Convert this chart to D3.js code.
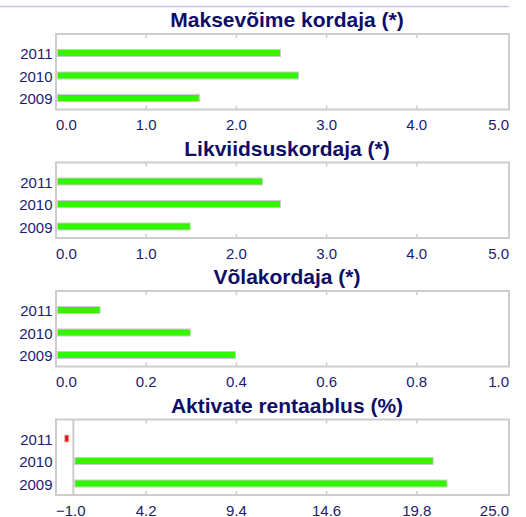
<!DOCTYPE html>
<html lang="et">
<head>
  <meta charset="UTF-8">
  <title>Suhtarvud</title>
</head>
<body style="margin:0; background-color:#ffffff">
  <style>
    svg{display:block; font-family: Arial, "Liberation Sans", sans-serif;}
    .title{font-weight:bold; font-size:21px; fill:#0e0e66;}
    .tick-label{font-size:15px; fill:#1c1c6e;}
  </style>
  <div id="chart-wrapper"></div>
  <script src="https://d3js.org/d3.v7.min.js"></script>
  <script>
  // DATA
  const years = ["2011", "2010", "2009"];
  const titles = ["Maksevõime kordaja (*)", "Likviidsuskordaja (*)", "Võlakordaja (*)", "Aktivate rentaablus (%)"];
  const maksevoime = [2.5, 2.7, 1.6];
  const likviidsus = [2.3, 2.5, 1.5];
  const volakordaja = [0.1, 0.3, 0.4];
  const rentaablus = [-0.5, 20.8, 21.6];
  const ticksKordaja = [0, 1, 2, 3, 4, 5];
  const ticksVola = [0, 0.2, 0.4, 0.6, 0.8, 1.0];
  const ticksRent = [-1.0, 4.2, 9.4, 14.6, 19.8, 25.0];

  // CONSTANTS
  const width = 526;
  const height = 517;
  const left = 56;
  const right = 509;
  const plotRight = 507;
  const firstTop = 34;
  const panelStep = 128.5;
  const panelHeight = 75.5;
  const cframe = "#cdcdcd";
  const cgreen = "#33f500";
  const cred = "#ff0000";

  const panels = [
    {title: titles[0], values: maksevoime, ticks: ticksKordaja},
    {title: titles[1], values: likviidsus, ticks: ticksKordaja},
    {title: titles[2], values: volakordaja, ticks: ticksVola},
    {title: titles[3], values: rentaablus, ticks: ticksRent}
  ];

  const svg = d3.select("#chart-wrapper").append("svg")
    .attr("width", width)
    .attr("height", height);

  // top line
  svg.append("line")
    .attr("x1", 0).attr("x2", right)
    .attr("y1", 6.5).attr("y2", 6.5)
    .attr("stroke", "#c4c4f6")
    .attr("stroke-width", 1.5);

  panels.forEach(function(p, i) {
    const top = firstTop + i * panelStep;
    const bottom = top + panelHeight;
    const ext = d3.extent(p.ticks);

    const x = d3.scaleLinear().domain(ext).range([left, plotRight]);
    const y = d3.scaleBand().domain(years).range([top + 7.75, bottom - 0.25]);

    const g = svg.append("g");

    // TITLE
    g.append("text")
      .attr("class", "title")
      .attr("x", 287)
      .attr("y", top - 7)
      .attr("text-anchor", "middle")
      .text(p.title);

    // FRAME
    g.append("rect")
      .attr("x", left).attr("y", top)
      .attr("width", right - left).attr("height", bottom - top)
      .attr("fill", "none")
      .attr("stroke", cframe)
      .attr("stroke-width", 2);

    // TICK STUBS
    const inner = p.ticks.slice(1, -1);
    g.selectAll(".stub-top").data(inner).join("line")
      .attr("x1", d => x(d)).attr("x2", d => x(d))
      .attr("y1", top).attr("y2", top + 4)
      .attr("stroke", cframe).attr("stroke-width", 1.5);
    g.selectAll(".stub-bottom").data(inner).join("line")
      .attr("x1", d => x(d)).attr("x2", d => x(d))
      .attr("y1", bottom - 4).attr("y2", bottom)
      .attr("stroke", cframe).attr("stroke-width", 1.5);

    // ZERO LINE (only if zero is inside)
    if (ext[0] < 0) {
      g.append("line")
        .attr("x1", x(0)).attr("x2", x(0))
        .attr("y1", top).attr("y2", bottom)
        .attr("stroke", cframe).attr("stroke-width", 2);
    }

    // BARS
    g.selectAll(".bar").data(p.values).join("rect")
      .attr("x", d => d >= 0 ? x(0) + 1.5 : x(d))
      .attr("y", (d, j) => y(years[j]) + y.bandwidth() / 2 - 3.5)
      .attr("width", d => d >= 0 ? x(d) - x(0) - 2.5 : x(0) - x(d) - 4.5)
      .attr("height", 7)
      .attr("fill", d => d >= 0 ? cgreen : cred)
      .attr("stroke", "#cccccc")
      .attr("stroke-width", 1);

    // Y LABELS
    g.selectAll(".ylab").data(years).join("text")
      .attr("class", "tick-label")
      .attr("x", 52.5)
      .attr("y", d => y(d) + y.bandwidth() / 2)
      .attr("dy", "0.4em")
      .attr("text-anchor", "end")
      .text(d => d);

    // X LABELS
    g.selectAll(".xlab").data(p.ticks).join("text")
      .attr("class", "tick-label")
      .attr("x", (d, j) => j === 0 ? left : (j === p.ticks.length - 1 ? right : x(d)))
      .attr("y", bottom + 20.5)
      .attr("text-anchor", (d, j) => j === 0 ? "start" : (j === p.ticks.length - 1 ? "end" : "middle"))
      .text(d => d3.format(".1f")(d));
  });
  </script>
</body>
</html>
